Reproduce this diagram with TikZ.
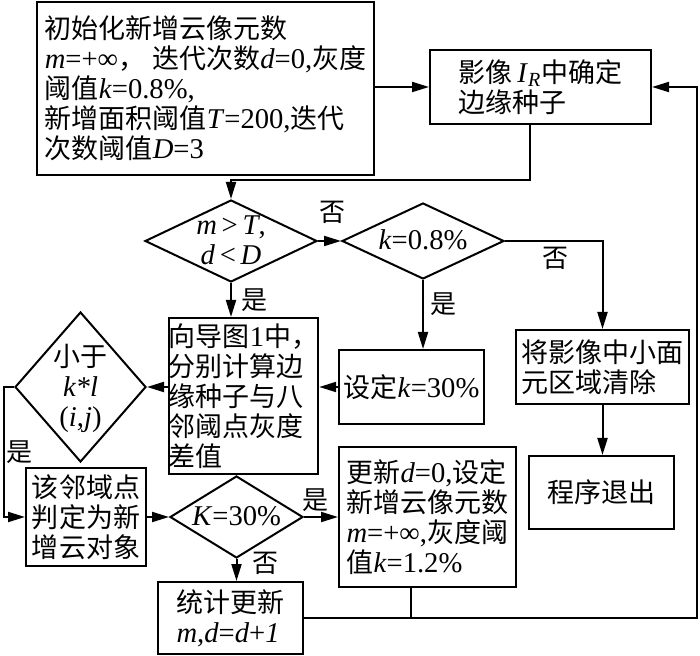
\documentclass[tikz,border=0pt]{standalone}
\usepackage{fontspec}
\setmainfont{Liberation Serif}[Scale=1.06]
\newfontfamily\cjk{Noto Sans CJK SC}
\usetikzlibrary{arrows.meta,shapes.geometric}
\newcommand\zw[1]{{\cjk #1}}
\newcommand\dtx[1]{\makebox[0pt]{\smash{\raisebox{-5pt}{\begin{tabular}{@{}c@{}}#1\end{tabular}}}}}
\tikzset{
  box/.style={draw, line width=1pt, rectangle, inner sep=0pt, align=left,
    font=\fontsize{13.5}{15}\selectfont},
  dia/.style={draw, line width=1pt, diamond, inner sep=0pt,
    font=\fontsize{13.5}{15}\selectfont},
  arr/.style={line width=1pt, -{Triangle[length=8.5pt,width=5pt]}},
  ln/.style={line width=1pt},
  lbl/.style={inner sep=0pt, font=\fontsize{13}{15}\selectfont\cjk}
}
\begin{document}
\begin{tikzpicture}[x=0.5pt,y=-0.5pt]
\useasboundingbox (0,0) rectangle (700,656);
% boxes
\node[box, minimum width=168.5pt, minimum height=86.5pt] (init) at (205.5,88.5)
  {\fontsize{13.5}{15.5}\selectfont
   \zw{初始化新增云像元数}\\
   \textit{m}=+∞\zw{，}\ \zw{迭代次数}\textit{d}=0,\zw{灰度}\\
   \zw{阈值}\textit{k}=0.8\%,\\
   \zw{新增面积阈值}\textit{T}=200,\zw{迭代}\\
   \zw{次数阈值}\textit{D}=3};
\node[box, minimum width=110.5pt, minimum height=37pt] (seed) at (540.5,87)
  {\zw{影像}\,\textit{I}\textsubscript{\textit{R}}\zw{中确定}\\ \zw{边缘种子}};
\node[dia, minimum width=86pt, minimum height=41pt] (d1) at (231,241)
  {\dtx{\textit{m}\,>\,\textit{T},\\ \textit{d}\,<\,\textit{D}}};
\node[dia, minimum width=81pt, minimum height=38pt] (d2) at (423,241)
  {\dtx{\textit{k}=0.8\%}};
\node[box, minimum width=86.5pt, minimum height=37pt] (clear) at (602.5,367)
  {\zw{将影像中小面}\\ \zw{元区域清除}};
\node[box, minimum width=72.5pt, minimum height=36.5pt] (exit) at (601.5,492.5)
  {\zw{程序退出}};
\node[box, minimum width=72.5pt, minimum height=37pt] (setk) at (411.5,387)
  {\zw{设定}\textit{k}=30\%};
\node[box, minimum width=71.5pt, minimum height=78pt] (guide) at (243.5,396)
  {\zw{向导图}1\zw{中，}\\ \zw{分别计算边}\\ \zw{缘种子与八}\\ \zw{邻阈点灰度}\\ \zw{差值}};
\node[dia, minimum width=65.5pt, minimum height=75pt] (d3) at (80.5,387)
  {\dtx{\zw{小于}\\ \textit{k*l}\\ (\textit{i},\textit{j})}};
\node[box, minimum width=60pt, minimum height=49pt] (nb) at (86,517)
  {\zw{该邻域点}\\ \zw{判定为新}\\ \zw{增云对象}};
\node[dia, minimum width=66.5pt, minimum height=41pt] (K) at (236.5,517)
  {\dtx{\textit{K}=30\%}};
\node[box, minimum width=88.5pt, minimum height=70pt] (upd) at (427.5,517)
  {\zw{更新}\textit{d}=0,\zw{设定}\\ \zw{新增云像元数}\\ \textit{m}=+∞,\zw{灰度阈}\\ \zw{值}\textit{k}=1.2\%};
\node[box, minimum width=72.5pt, minimum height=36pt] (stat) at (230.5,618)
  {\zw{统计更新}\\ \textit{m},\textit{d}=\textit{d}+\textit{1}};
% helper coordinates
\coordinate (s1) at (530,180);
\coordinate (L) at (4,517);
\coordinate (R) at (697,618);
\coordinate (J) at (411,618);
% connectors
\draw[arr] (init.east |- seed.west) -- (seed.west);
\draw[arr] (s1 |- seed.south) -- (s1) -- (s1 -| d1.north) -- (d1.north);
\draw[arr] (d1.east) -- (d2.west);
\draw[arr] (d2.east) -| (clear.north);
\draw[arr] (d2.south) -- (d2.south |- setk.north);
\draw[arr] (d1.south) -- (d1.south |- guide.north);
\draw[arr] (setk.west) -- (guide.east |- setk.west);
\draw[arr] (guide.west |- d3.east) -- (d3.east);
\draw[arr] (d3.west) -| (L) -- (nb.west);
\draw[arr] (nb.east) -- (K.west);
\draw[arr] (K.east) -- (upd.west);
\draw[arr] (K.south) -- (K.south |- stat.north);
\draw[arr] (clear.south) -- (clear.south |- exit.north);
\draw[arr] (stat.east |- R) -- (R) |- (seed.east);
\draw[ln] (J |- upd.south) -- (J);
% labels
\node[lbl] (n1) at (332,212) {否};
\node[lbl] (n2) at (555,258) {否};
\node[lbl] (y1) at (443,304) {是};
\node[lbl] (y2) at (254,300) {是};
\node[lbl] (y3) at (19,452) {是};
\node[lbl] (y4) at (315,500) {是};
\node[lbl] (n3) at (265,563) {否};
\end{tikzpicture}
\end{document}
